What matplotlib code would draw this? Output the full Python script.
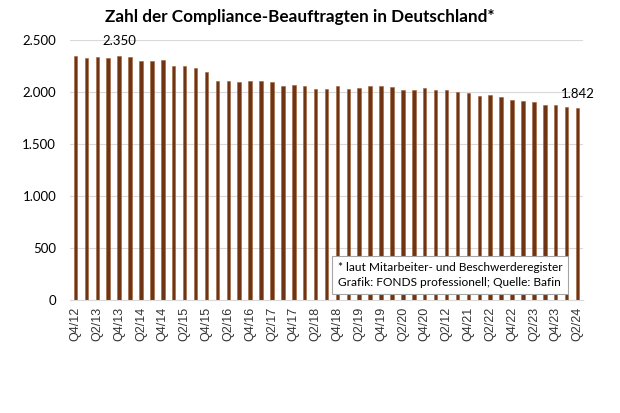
import matplotlib.pyplot as plt
import matplotlib.ticker as mticker

# Quarterly values, Q4/12 .. Q2/24
quarters = [
    "Q4/12",
    "Q1/13", "Q2/13", "Q3/13", "Q4/13",
    "Q1/14", "Q2/14", "Q3/14", "Q4/14",
    "Q1/15", "Q2/15", "Q3/15", "Q4/15",
    "Q1/16", "Q2/16", "Q3/16", "Q4/16",
    "Q1/17", "Q2/17", "Q3/17", "Q4/17",
    "Q1/18", "Q2/18", "Q3/18", "Q4/18",
    "Q1/19", "Q2/19", "Q3/19", "Q4/19",
    "Q1/20", "Q2/20", "Q3/20", "Q4/20",
    "Q1/21", "Q2/12", "Q3/21", "Q4/21",
    "Q1/22", "Q2/22", "Q3/22", "Q4/22",
    "Q1/23", "Q2/23", "Q3/23", "Q4/23",
    "Q1/24", "Q2/24",
]
values = [
    2348,
    2323, 2339, 2323, 2350,
    2332, 2300, 2300, 2306,
    2248, 2248, 2226, 2194,
    2103, 2110, 2097, 2103,
    2103, 2097, 2061, 2071,
    2055, 2029, 2029, 2055,
    2029, 2039, 2055, 2055,
    2045, 2019, 2019, 2042,
    2019, 2019, 1997, 1987,
    1965, 1971, 1948, 1923,
    1910, 1900, 1874, 1874,
    1858, 1842,
]
labelled = {4: "2.350", 46: "1.842"}

BAR_COLOR = "#6E3413"

fig = plt.figure(figsize=(6.2, 4.13), dpi=100)
ax = fig.add_axes([70 / 620, 1 - 300 / 413, 513 / 620, 260 / 413])

x = list(range(len(values)))
ax.bar(x, values, width=0.32, color=BAR_COLOR, edgecolor="#A0623A", linewidth=0.4, zorder=2)

ax.set_xlim(-0.5, len(values) - 0.5)
ax.set_ylim(0, 2500)
ax.yaxis.set_major_locator(mticker.MultipleLocator(500))
ax.yaxis.set_major_formatter(
    mticker.FuncFormatter(lambda v, p: f"{int(v):,}".replace(",", "."))
)
ax.grid(axis="y", color="#d9d9d9", linewidth=0.8, zorder=0)
for s in ["top", "right", "left"]:
    ax.spines[s].set_visible(False)
ax.spines["bottom"].set_color("#d9d9d9")

ax.set_xticks(x[::2])
ax.set_xticklabels(quarters[::2], rotation=90, fontsize=9, family="Liberation Sans", color="#333333")
ax.tick_params(axis="x", length=0, pad=5)
ax.tick_params(axis="y", length=0, labelsize=9.5, pad=10)
for lbl in ax.get_yticklabels():
    lbl.set_family("Lato")

for i, txt in labelled.items():
    ax.annotate(txt, (i, values[i]), xytext=(0, 6), textcoords="offset points",
                ha="center", va="bottom", fontsize=9.5, family="Lato")

ax.text(0.522, 0.045,
        "* laut Mitarbeiter- und Beschwerderegister\nGrafik: FONDS professionell; Quelle: Bafin",
        transform=ax.transAxes, fontsize=8.6, family="Lato", ha="left", va="bottom",
        linespacing=1.5, zorder=5,
        bbox=dict(boxstyle="square,pad=0.45", facecolor="white", edgecolor="#a6a6a6", linewidth=0.8))

fig.text(300 / 620, 1 - 17 / 413, "Zahl der Compliance-Beauftragten in Deutschland*",
         ha="center", va="center", fontsize=12.3, fontweight="bold", family="Lato")

fig.savefig("out.png", dpi=100)
